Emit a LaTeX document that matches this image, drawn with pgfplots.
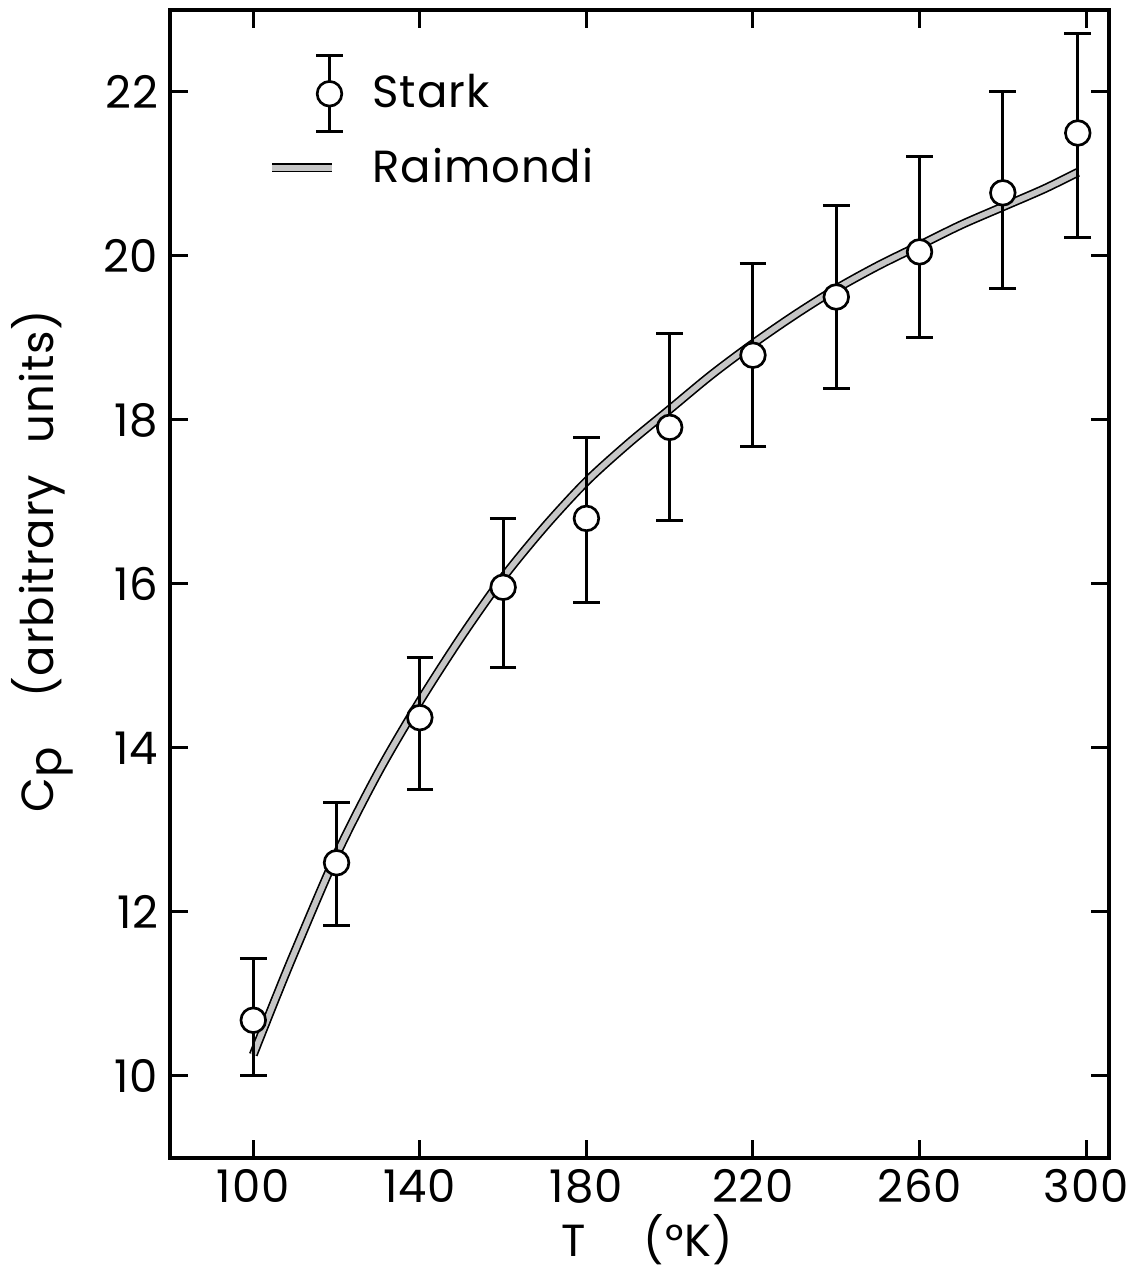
\documentclass[border=0pt]{standalone}
\usepackage{fontspec}
\setmainfont[LetterSpace=2]{Poppins}
\usepackage{pgfplots}
\pgfplotsset{compat=1.18}
\usepackage{pgfplotstable}

% Stark: measured C_p with the ends of each error bar
\pgfplotstableread{
T    y      lo     hi
100  10.68  10.01  11.43
120  12.60  11.83  13.33
140  14.37  13.49  15.10
160  15.96  14.98  16.80
180  16.80  15.77  17.79
200  17.91  16.78  19.05
220  18.79  17.68  19.91
240  19.50  18.38  20.62
260  20.05  19.01  21.21
280  20.77  19.60  22.00
298  21.50  20.22  22.71
}\stark

% Raimondi: calculated curve
\pgfplotstableread{
T    cp
100  10.26
105  10.90
110  11.52
120  12.70
130  13.70
140  14.57
150  15.36
160  16.08
170  16.70
180  17.25
190  17.71
200  18.13
210  18.55
220  18.93
230  19.28
240  19.60
250  19.88
260  20.13
270  20.38
280  20.60
290  20.82
298  21.02
}\raimondi

\newcommand{\lbl}{\fontsize{13.5}{15}\selectfont}

\begin{document}
\begin{tikzpicture}
\begin{axis}[
  name=ax,
  scale only axis,
  width=281.7pt, height=344.4pt,
  xmin=80, xmax=305.5, ymin=9, ymax=23,
  xtick={100,140,...,300},
  ytick={10,12,...,22},
  tick align=inside,
  major tick length=5.5pt,
  every tick/.style={line width=0.9pt, black},
  axis line style={line width=1.2pt},
  /pgf/number format/assume math mode=true,
  ticklabel style={font=\lbl},
  every axis x label/.style={at={(axis description cs:0.508,-0.071)}, anchor=center, font=\lbl},
  every axis y label/.style={at={(axis description cs:-0.136,0.52)}, rotate=90, anchor=center, font=\lbl},
  xlabel={T\hspace{1.3em}(\textdegree K)},
  ylabel={C\raisebox{-0.35ex}{p}\hspace{1.1em}(arbitrary\hspace{0.7em}units)},
  legend cell align=left,
  legend style={draw=none, fill=none, font=\lbl,
    at={(axis description cs:0.1033,0.962)}, anchor=north west,
    inner sep=0pt, row sep=2.5pt, column sep=6.5pt},
]
% legend samples
\addlegendimage{legend image code/.code={
  \draw[line width=0.9pt] (17.2pt,-11.4pt) -- (17.2pt,11.4pt);
  \draw[line width=0.9pt] (13.2pt,-11.4pt) -- (21.2pt,-11.4pt);
  \draw[line width=0.9pt] (13.2pt,11.4pt) -- (21.2pt,11.4pt);
  \draw[line width=0.8pt, fill=white] (17.2pt,0pt) circle (3.7pt);}}
\addlegendentry{Stark}
\addlegendimage{legend image code/.code={
  \draw[line width=0.5pt, double=gray!45, double distance=1.7pt] (0pt,0pt) -- (18pt,0pt);}}
\addlegendentry{Raimondi}

\addplot[line width=0.5pt, double=gray!45, double distance=1.7pt, smooth, forget plot]
  table[x=T, y=cp] {\raimondi};

\addplot[only marks, mark=*, mark size=3.7pt, forget plot,
  mark options={fill=white, draw=black, line width=0.8pt},
  error bars/.cd, y dir=both, y explicit,
  error bar style={line width=0.9pt, black},
  error mark options={rotate=90, mark size=4pt, line width=0.9pt, black}]
  table[x=T, y=y,
        y error plus expr=\thisrow{hi}-\thisrow{y},
        y error minus expr=\thisrow{y}-\thisrow{lo}] {\stark};
\end{axis}
\pgfresetboundingbox
\path[use as bounding box] ([shift={(-51pt,-34.5pt)}]ax.south west) rectangle ([shift={(7.8pt,3pt)}]ax.north east);
\end{tikzpicture}
\end{document}
